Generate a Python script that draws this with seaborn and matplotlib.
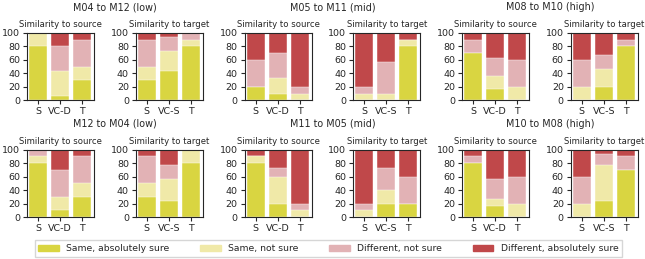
import pandas as pd
import matplotlib
matplotlib.use('Agg')
import matplotlib.pyplot as plt
import matplotlib.patches as mpatches
import seaborn as sns

sns.set_style('ticks')
plt.rcParams['font.family'] = ['DejaVu Sans']

# panel order: row 1 = 3 directions (source, target), row 2 = reverse directions
group_titles = ['M04 to M12 (low)', 'M05 to M11 (mid)', 'M08 to M10 (high)',
                'M12 to M04 (low)', 'M11 to M05 (mid)', 'M10 to M08 (high)']
panel_titles = ['Similarity to source', 'Similarity to target']
src_labels = ['S', 'VC-D', 'T']
tgt_labels = ['S', 'VC-S', 'T']

categories = ['Same, absolutely sure', 'Same, not sure',
              'Different, not sure', 'Different, absolutely sure']
colors = ['#d9d541', '#f0e9a8', '#e2b2b5', '#c0484a']

# percent per bar (S, VC, T) for each of the 12 panels
same_sure = [[80, 6.7, 30], [30, 43.3, 80], [20, 10, 0], [0, 0, 80], [70, 16.7, 0], [0, 20, 80],
             [80, 10, 30], [30, 23.3, 80], [80, 20, 0], [0, 20, 20], [80, 16.7, 0], [0, 23.3, 70]]
same_unsure = [[20, 36.7, 20], [20, 30, 10], [0, 23.3, 10], [10, 10, 10], [0, 20, 20], [20, 26.7, 0],
               [10, 20, 20], [20, 33.3, 20], [10, 40, 10], [10, 20, 0], [0, 10, 20], [20, 53.3, 0]]
diff_unsure = [[0, 36.7, 40], [40, 20, 10], [40, 36.7, 10], [10, 46.7, 0], [20, 26.7, 40], [40, 20, 10],
               [10, 40, 40], [40, 20, 0], [0, 13.3, 10], [10, 33.3, 40], [10, 30, 40], [40, 16.7, 20]]
diff_sure = [[0, 20, 10], [10, 6.7, 0], [40, 30, 80], [80, 43.3, 10], [10, 36.7, 40], [40, 33.3, 10],
             [0, 30, 10], [10, 23.3, 0], [10, 26.7, 80], [80, 26.7, 40], [10, 43.3, 40], [40, 6.7, 10]]

fig, axes = plt.subplots(2, 6, figsize=(6.45, 2.59), dpi=100)
plt.subplots_adjust(left=0.042, right=0.989, top=0.873, bottom=0.162, wspace=0.62, hspace=0.73)

for i in range(12):
    r, c = divmod(i, 6)
    ax = axes[r, c]
    labels = src_labels if c % 2 == 0 else tgt_labels
    layers = [same_sure[i], same_unsure[i], diff_unsure[i], diff_sure[i]]
    df = pd.DataFrame(layers, index=categories, columns=labels).T
    cum = df.cumsum(axis=1)
    # draw cumulative totals from the top layer down so each segment shows
    for cat, col in reversed(list(zip(categories, colors))):
        sns.barplot(x=cum.index, y=cum[cat], color=col, width=0.82,
                    saturation=1, edgecolor='white', linewidth=0.3, ax=ax)
    ax.set_ylim(0, 100)
    ax.set_xlim(-0.5, 2.55)
    ax.set_yticks([0, 20, 40, 60, 80, 100])
    ax.set_xlabel('')
    ax.set_ylabel('')
    ax.tick_params(labelsize=6.8, length=3, pad=2)
    ax.set_title(panel_titles[c % 2], fontsize=6.1, pad=4)

# group titles centred over each pair
for g in range(6):
    r, k = divmod(g, 3)
    left = axes[r, 2 * k].get_position()
    right = axes[r, 2 * k + 1].get_position()
    xc = (left.x0 + right.x1) / 2
    y = left.y1 + 0.08
    fig.text(xc, y, group_titles[g], ha='center', va='bottom', fontsize=6.9)

handles = [mpatches.Patch(color=col, label=cat) for cat, col in zip(categories, colors)]
fig.legend(handles=handles, loc='lower center', bbox_to_anchor=(0.509, -0.01), ncol=4,
           fontsize=6.7, handlelength=2.2, handleheight=0.55, columnspacing=3.3,
           frameon=True, fancybox=False, edgecolor='#cccccc')

plt.savefig('out.png', dpi=100)
